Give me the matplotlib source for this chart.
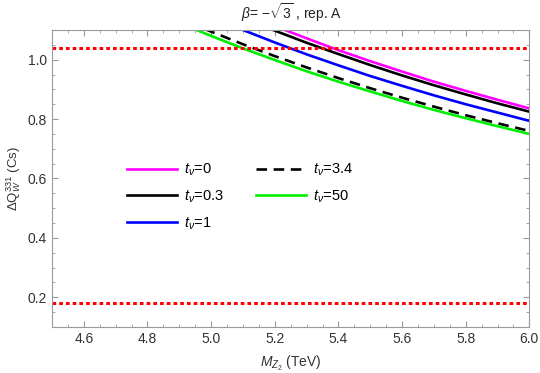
import matplotlib
matplotlib.use('Agg')
import matplotlib.pyplot as plt
from matplotlib.ticker import MultipleLocator

plt.rcParams['font.family'] = ['Liberation Sans', 'DejaVu Sans']
plt.rcParams['mathtext.fontset'] = 'custom'
plt.rcParams['mathtext.rm'] = 'Liberation Sans'
plt.rcParams['mathtext.it'] = 'Liberation Sans:italic'

# curves (M_Z2 in TeV, Delta Q_W)
m_tv0 = [5.20, 5.30, 5.40, 5.50, 5.60, 5.70, 5.80, 5.90, 6.00]
q_tv0 = [1.113, 1.072, 1.032, 0.995, 0.960, 0.926, 0.895, 0.865, 0.836]

m_tv03 = [5.19, 5.30, 5.40, 5.50, 5.60, 5.70, 5.80, 5.90, 6.00]
q_tv03 = [1.102, 1.057, 1.019, 0.982, 0.947, 0.914, 0.883, 0.853, 0.825]

m_tv1 = [5.10, 5.20, 5.30, 5.40, 5.50, 5.60, 5.70, 5.80, 5.90, 6.00]
q_tv1 = [1.100, 1.058, 1.018, 0.981, 0.945, 0.912, 0.880, 0.850, 0.822, 0.794]

m_tv34 = [4.98, 5.10, 5.20, 5.30, 5.40, 5.50, 5.60, 5.70, 5.80, 5.90, 6.00]
q_tv34 = [1.103, 1.052, 1.012, 0.974, 0.938, 0.904, 0.872, 0.842, 0.813, 0.786, 0.760]

m_tv50 = [4.95, 5.00, 5.10, 5.20, 5.30, 5.40, 5.50, 5.60, 5.70, 5.80, 5.90, 6.00]
q_tv50 = [1.102, 1.080, 1.038, 0.999, 0.961, 0.926, 0.893, 0.861, 0.831, 0.803, 0.776, 0.750]

bounds = [1.04, 0.18]

fig = plt.figure(figsize=(5.4, 3.73), dpi=100)
ax = fig.add_axes([0.0963, 0.1233, 0.884, 0.7963])

ax.plot(m_tv0, q_tv0, color='#ff00ff', lw=1.9, label=r'$t_\nu$=0')
ax.plot(m_tv03, q_tv03, color='black', lw=1.9, label=r'$t_\nu$=0.3')
ax.plot(m_tv1, q_tv1, color='blue', lw=1.9, label=r'$t_\nu$=1')
ax.plot(m_tv34, q_tv34, color='black', lw=1.9, ls=(0, (4, 2.5)), label=r'$t_\nu$=3.4')
ax.plot(m_tv50, q_tv50, color='#00ee00', lw=1.9, label=r'$t_\nu$=50')

for b in bounds:
    ax.axhline(b, color='red', lw=2.2, ls=(0, (1.2, 1.0)))

ax.set_xlim(4.5, 6.0)
ax.set_ylim(0.1, 1.1)
ax.xaxis.set_major_locator(MultipleLocator(0.2))
ax.xaxis.set_minor_locator(MultipleLocator(0.05))
ax.yaxis.set_major_locator(MultipleLocator(0.2))
ax.yaxis.set_minor_locator(MultipleLocator(0.05))
ax.set_xticks([4.6, 4.8, 5.0, 5.2, 5.4, 5.6, 5.8, 6.0])
ax.tick_params(which='both', direction='in', top=True, right=True,
               color='#999999', labelsize=10, labelcolor='#333333')
ax.tick_params(which='major', length=4)
ax.tick_params(which='minor', length=2.5)
for s in ax.spines.values():
    s.set_color('#999999')

ax.set_xlabel(r'$M_{Z_2}$ (TeV)', fontsize=10, color='#333333', labelpad=6)
ax.set_ylabel(r'$\Delta\mathrm{Q}_W^{331}$ (Cs)', fontsize=9.5, color='#333333', va='center')
ax.yaxis.set_label_coords(-0.08, 0.5)
fig.text(0.54, 0.965, r'$\beta$= $-\sqrt{3}$ , rep. A', ha='center', va='center',
         fontsize=10, color='#222222')

ax.legend(loc='upper left', bbox_to_anchor=(0.13, 0.6), ncol=2, frameon=False,
          handlelength=3.4, handletextpad=0.5, columnspacing=2.2,
          labelspacing=0.7, fontsize=10.5)

fig.savefig('out.png', dpi=100)
